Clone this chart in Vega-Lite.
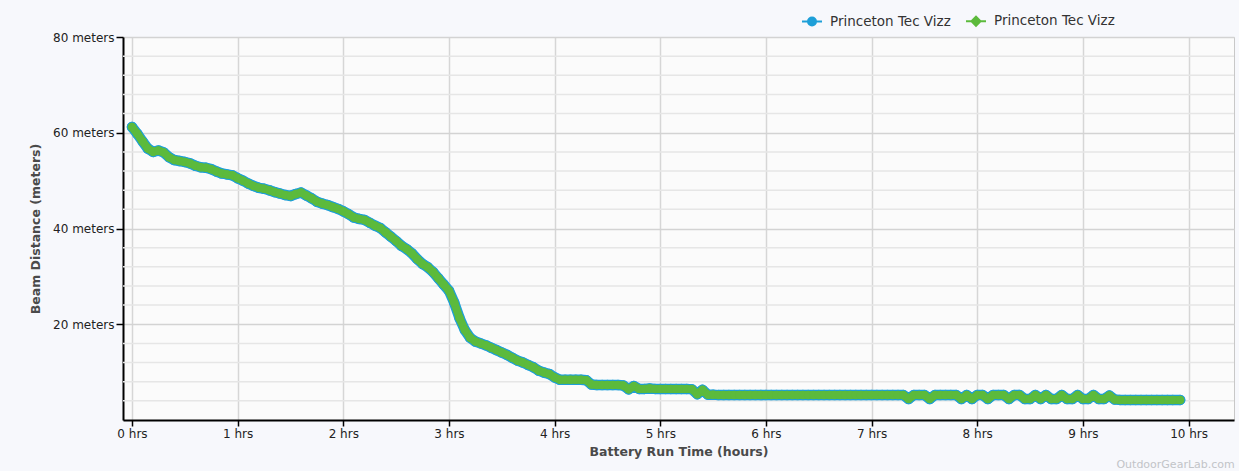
{
  "$schema": "https://vega.github.io/schema/vega-lite/v6.json",
  "width": 1111,
  "height": 383,
  "autosize": {"type": "none"},
  "padding": {"left": 123, "top": 37, "right": 5, "bottom": 51},
  "background": "#f7f8fc",
  "config": {
    "font": "DejaVu Sans",
    "view": {"stroke": "#c8c8c8", "fill": "#fbfbfb", "strokeWidth": 1}
  },
  "title": {
    "text": "OutdoorGearLab.com",
    "orient": "bottom",
    "anchor": "end",
    "fontSize": 11,
    "fontWeight": "normal",
    "color": "#c2c4c8",
    "offset": 1
  },
  "datasets": {
    "runtime": [
      {"t": 0.00, "d": 61.2}, {"t": 0.05, "d": 59.8}, {"t": 0.10, "d": 58.2}, {"t": 0.15, "d": 56.7},
      {"t": 0.20, "d": 56.0}, {"t": 0.25, "d": 56.3}, {"t": 0.30, "d": 55.9}, {"t": 0.35, "d": 54.9},
      {"t": 0.40, "d": 54.3}, {"t": 0.45, "d": 54.1}, {"t": 0.50, "d": 53.9}, {"t": 0.55, "d": 53.6},
      {"t": 0.60, "d": 53.1}, {"t": 0.65, "d": 52.8}, {"t": 0.70, "d": 52.7}, {"t": 0.75, "d": 52.4},
      {"t": 0.80, "d": 51.9}, {"t": 0.85, "d": 51.5}, {"t": 0.90, "d": 51.3}, {"t": 0.95, "d": 51.1},
      {"t": 1.00, "d": 50.5}, {"t": 1.05, "d": 50.0}, {"t": 1.10, "d": 49.4}, {"t": 1.15, "d": 48.9},
      {"t": 1.20, "d": 48.5}, {"t": 1.25, "d": 48.3}, {"t": 1.30, "d": 48.0}, {"t": 1.35, "d": 47.6},
      {"t": 1.40, "d": 47.3}, {"t": 1.45, "d": 47.0}, {"t": 1.50, "d": 46.8}, {"t": 1.55, "d": 47.2},
      {"t": 1.60, "d": 47.5}, {"t": 1.65, "d": 46.9}, {"t": 1.70, "d": 46.3}, {"t": 1.75, "d": 45.6},
      {"t": 1.80, "d": 45.2}, {"t": 1.85, "d": 44.9}, {"t": 1.90, "d": 44.5}, {"t": 1.95, "d": 44.1},
      {"t": 2.00, "d": 43.6}, {"t": 2.05, "d": 43.0}, {"t": 2.10, "d": 42.3}, {"t": 2.15, "d": 42.0},
      {"t": 2.20, "d": 41.8}, {"t": 2.25, "d": 41.2}, {"t": 2.30, "d": 40.6}, {"t": 2.35, "d": 40.1},
      {"t": 2.40, "d": 39.2}, {"t": 2.45, "d": 38.3}, {"t": 2.50, "d": 37.4}, {"t": 2.55, "d": 36.4},
      {"t": 2.60, "d": 35.7}, {"t": 2.65, "d": 34.8}, {"t": 2.70, "d": 33.6}, {"t": 2.75, "d": 32.6},
      {"t": 2.80, "d": 31.9}, {"t": 2.85, "d": 30.9}, {"t": 2.90, "d": 29.6}, {"t": 2.95, "d": 28.3},
      {"t": 3.00, "d": 27.0}, {"t": 3.05, "d": 24.5}, {"t": 3.10, "d": 21.3}, {"t": 3.15, "d": 18.8},
      {"t": 3.20, "d": 17.2}, {"t": 3.25, "d": 16.4}, {"t": 3.30, "d": 16.0}, {"t": 3.35, "d": 15.6},
      {"t": 3.40, "d": 15.1}, {"t": 3.45, "d": 14.6}, {"t": 3.50, "d": 14.1}, {"t": 3.55, "d": 13.6},
      {"t": 3.60, "d": 13.0}, {"t": 3.65, "d": 12.4}, {"t": 3.70, "d": 12.0}, {"t": 3.75, "d": 11.5},
      {"t": 3.80, "d": 11.0}, {"t": 3.85, "d": 10.3}, {"t": 3.90, "d": 9.9}, {"t": 3.95, "d": 9.6},
      {"t": 4.00, "d": 8.9}, {"t": 4.05, "d": 8.4}, {"t": 4.10, "d": 8.4}, {"t": 4.15, "d": 8.4},
      {"t": 4.20, "d": 8.4}, {"t": 4.25, "d": 8.4}, {"t": 4.30, "d": 8.3}, {"t": 4.35, "d": 7.4},
      {"t": 4.40, "d": 7.3}, {"t": 4.45, "d": 7.3}, {"t": 4.50, "d": 7.3}, {"t": 4.55, "d": 7.3},
      {"t": 4.60, "d": 7.3}, {"t": 4.65, "d": 7.2}, {"t": 4.70, "d": 6.4}, {"t": 4.75, "d": 7.1},
      {"t": 4.80, "d": 6.5}, {"t": 4.85, "d": 6.5}, {"t": 4.90, "d": 6.6}, {"t": 4.95, "d": 6.5},
      {"t": 5.00, "d": 6.5}, {"t": 5.05, "d": 6.5}, {"t": 5.10, "d": 6.5}, {"t": 5.15, "d": 6.5},
      {"t": 5.20, "d": 6.5}, {"t": 5.25, "d": 6.5}, {"t": 5.30, "d": 6.4}, {"t": 5.35, "d": 5.4},
      {"t": 5.40, "d": 6.3}, {"t": 5.45, "d": 5.3}, {"t": 5.50, "d": 5.3}, {"t": 5.55, "d": 5.2},
      {"t": 5.60, "d": 5.2}, {"t": 5.65, "d": 5.2}, {"t": 5.70, "d": 5.2}, {"t": 5.75, "d": 5.2},
      {"t": 5.80, "d": 5.2}, {"t": 5.85, "d": 5.2}, {"t": 5.90, "d": 5.2}, {"t": 5.95, "d": 5.2},
      {"t": 6.00, "d": 5.2}, {"t": 6.05, "d": 5.2}, {"t": 6.10, "d": 5.2}, {"t": 6.15, "d": 5.2},
      {"t": 6.20, "d": 5.2}, {"t": 6.25, "d": 5.2}, {"t": 6.30, "d": 5.2}, {"t": 6.35, "d": 5.2},
      {"t": 6.40, "d": 5.2}, {"t": 6.45, "d": 5.2}, {"t": 6.50, "d": 5.2}, {"t": 6.55, "d": 5.2},
      {"t": 6.60, "d": 5.2}, {"t": 6.65, "d": 5.2}, {"t": 6.70, "d": 5.2}, {"t": 6.75, "d": 5.2},
      {"t": 6.80, "d": 5.2}, {"t": 6.85, "d": 5.2}, {"t": 6.90, "d": 5.2}, {"t": 6.95, "d": 5.2},
      {"t": 7.00, "d": 5.2}, {"t": 7.05, "d": 5.2}, {"t": 7.10, "d": 5.2}, {"t": 7.15, "d": 5.2},
      {"t": 7.20, "d": 5.2}, {"t": 7.25, "d": 5.2}, {"t": 7.30, "d": 5.2}, {"t": 7.35, "d": 4.4},
      {"t": 7.40, "d": 5.2}, {"t": 7.45, "d": 5.2}, {"t": 7.50, "d": 5.2}, {"t": 7.55, "d": 4.4},
      {"t": 7.60, "d": 5.2}, {"t": 7.65, "d": 5.2}, {"t": 7.70, "d": 5.2}, {"t": 7.75, "d": 5.2},
      {"t": 7.80, "d": 5.2}, {"t": 7.85, "d": 4.4}, {"t": 7.90, "d": 5.2}, {"t": 7.95, "d": 4.4},
      {"t": 8.00, "d": 5.2}, {"t": 8.05, "d": 5.2}, {"t": 8.10, "d": 4.4}, {"t": 8.15, "d": 5.2},
      {"t": 8.20, "d": 5.2}, {"t": 8.25, "d": 5.2}, {"t": 8.30, "d": 4.4}, {"t": 8.35, "d": 5.2},
      {"t": 8.40, "d": 5.2}, {"t": 8.45, "d": 4.4}, {"t": 8.50, "d": 4.4}, {"t": 8.55, "d": 5.2},
      {"t": 8.60, "d": 4.4}, {"t": 8.65, "d": 5.2}, {"t": 8.70, "d": 4.4}, {"t": 8.75, "d": 4.4},
      {"t": 8.80, "d": 5.2}, {"t": 8.85, "d": 4.4}, {"t": 8.90, "d": 4.4}, {"t": 8.95, "d": 5.2},
      {"t": 9.00, "d": 4.4}, {"t": 9.05, "d": 4.4}, {"t": 9.10, "d": 5.2}, {"t": 9.15, "d": 4.4},
      {"t": 9.20, "d": 4.4}, {"t": 9.25, "d": 5.1}, {"t": 9.30, "d": 4.3}, {"t": 9.35, "d": 4.2},
      {"t": 9.40, "d": 4.2}, {"t": 9.45, "d": 4.2}, {"t": 9.50, "d": 4.2}, {"t": 9.55, "d": 4.2},
      {"t": 9.60, "d": 4.2}, {"t": 9.65, "d": 4.2}, {"t": 9.70, "d": 4.2}, {"t": 9.75, "d": 4.2},
      {"t": 9.80, "d": 4.2}, {"t": 9.85, "d": 4.2}, {"t": 9.92, "d": 4.2}
    ],
    "minorgrid": [
      {"g": 4}, {"g": 8}, {"g": 12}, {"g": 16}, {"g": 24}, {"g": 28}, {"g": 32}, {"g": 36},
      {"g": 44}, {"g": 48}, {"g": 52}, {"g": 56}, {"g": 64}, {"g": 68}, {"g": 72}, {"g": 76}
    ]
  },
  "encoding": {
    "x": {
      "field": "t",
      "type": "quantitative",
      "scale": {"domain": [-0.085, 10.43], "nice": false, "zero": false},
      "axis": {
        "title": "Battery Run Time (hours)",
        "values": [0, 1, 2, 3, 4, 5, 6, 7, 8, 9, 10],
        "labelExpr": "datum.value + ' hrs'",
        "labelFontSize": 12,
        "labelColor": "#222222",
        "labelPadding": 2,
        "labelFlush": false,
        "tickColor": "#000000",
        "tickSize": 6,
        "tickWidth": 1.5,
        "domainColor": "#000000",
        "domainWidth": 2,
        "grid": true,
        "gridColor": "#d6d6d6",
        "gridWidth": 1.5,
        "titleFontSize": 12.5,
        "titleFontWeight": "bold",
        "titleColor": "#4a4a4a",
        "titlePadding": 6
      }
    }
  },
  "layer": [
    {
      "data": {"name": "minorgrid"},
      "mark": {"type": "rule", "color": "#e6e6e6", "strokeWidth": 1.5},
      "encoding": {
        "x": null,
        "y": {"field": "g", "type": "quantitative"}
      }
    },
    {
      "data": {"name": "runtime"},
      "mark": {"type": "line", "strokeWidth": 10.5, "strokeCap": "round", "strokeJoin": "round"},
      "encoding": {
        "y": {
          "field": "d",
          "type": "quantitative",
          "scale": {"domain": [0, 80], "nice": false},
          "axis": {
            "title": "Beam Distance (meters)",
            "values": [20, 40, 60, 80],
            "labelExpr": "datum.value + ' meters'",
            "labelFontSize": 12,
            "labelColor": "#222222",
            "labelPadding": 2,
            "labelFlush": false,
            "tickColor": "#000000",
            "tickSize": 7,
            "tickWidth": 1.5,
            "domainColor": "#000000",
            "domainWidth": 2,
            "grid": true,
            "gridColor": "#d3d3d3",
            "gridWidth": 1.5,
            "titleFontSize": 12.5,
            "titleFontWeight": "bold",
            "titleColor": "#4a4a4a",
            "titlePadding": 10
          }
        },
        "color": {
          "datum": "A",
          "type": "nominal",
          "scale": {"domain": ["A", "B"], "range": ["#1e9fd8", "#5cba3c"]},
          "legend": {
            "orient": "none",
            "legendX": 678,
            "legendY": -27,
            "direction": "horizontal",
            "title": null,
            "labelExpr": "'Princeton Tec Vizz'",
            "labelFontSize": 13.5,
            "labelColor": "#333333",
            "labelOffset": 7,
            "symbolSize": 400,
            "columnPadding": 11,
            "padding": 0,
            "encode": {
              "symbols": {
                "update": {
                  "shape": {"signal": "datum.value === 'A' ? 'M-1,0H-0.4M0.4,0H1M-0.4,0A0.4,0.4,0,1,0,0.4,0A0.4,0.4,0,1,0,-0.4,0Z' : 'M-1,0H-0.45M0.45,0H1M-0.45,0L0,-0.45L0.45,0L0,0.45Z'"},
                  "fill": {"signal": "datum.value === 'A' ? '#1e9fd8' : '#5cba3c'"},
                  "stroke": {"signal": "datum.value === 'A' ? '#1e9fd8' : '#5cba3c'"},
                  "strokeWidth": {"value": 2},
                  "opacity": {"value": 1},
                  "fillOpacity": {"value": 1}
                }
              }
            }
          }
        }
      }
    },
    {
      "data": {"name": "runtime"},
      "mark": {"type": "point", "shape": "circle", "filled": true, "size": 110, "opacity": 1},
      "encoding": {
        "y": {"field": "d", "type": "quantitative"},
        "color": {"datum": "A", "type": "nominal"}
      }
    },
    {
      "data": {"name": "runtime"},
      "mark": {"type": "line", "strokeWidth": 8, "strokeCap": "round", "strokeJoin": "round"},
      "encoding": {
        "y": {"field": "d", "type": "quantitative"},
        "color": {"datum": "B", "type": "nominal"}
      }
    },
    {
      "data": {"name": "runtime"},
      "mark": {"type": "point", "shape": "circle", "filled": true, "size": 72, "opacity": 1},
      "encoding": {
        "y": {"field": "d", "type": "quantitative"},
        "color": {"datum": "B", "type": "nominal"}
      }
    }
  ]
}
